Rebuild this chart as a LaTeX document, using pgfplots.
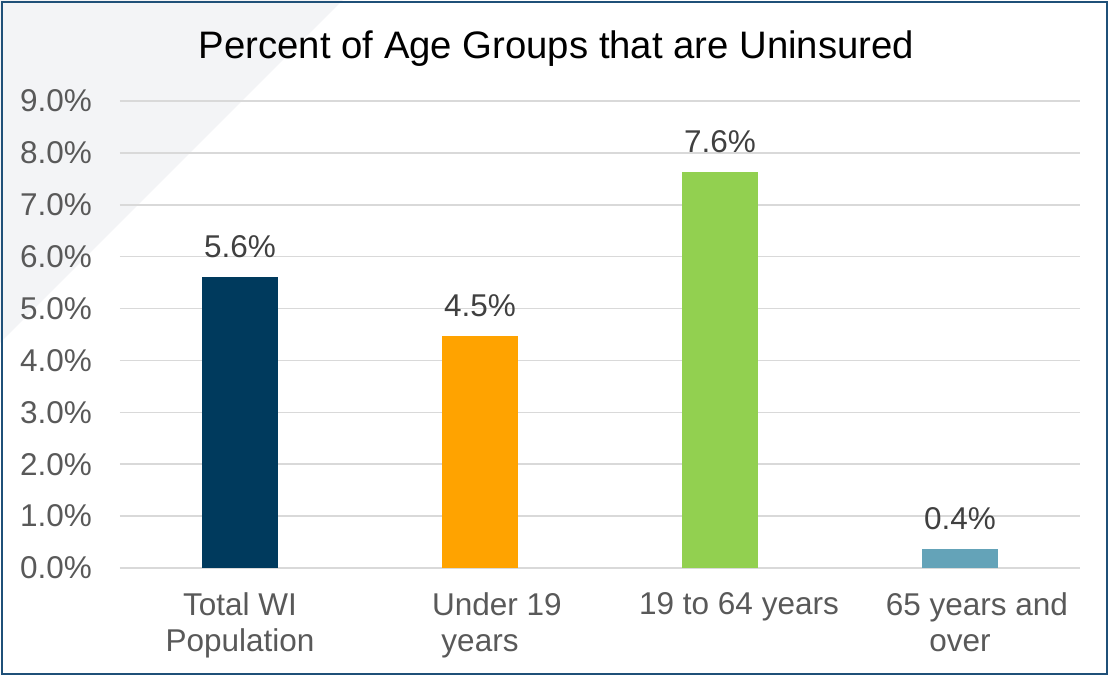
\documentclass[border=0pt]{standalone}
\usepackage{pgfplots}
\pgfplotsset{compat=1.18}
\usepackage{fontspec}
\setmainfont{Liberation Sans}
\definecolor{cnavy}{HTML}{003A5D}
\definecolor{corange}{HTML}{FFA300}
\definecolor{cgreen}{HTML}{92D050}
\definecolor{cteal}{HTML}{64A3B8}
\definecolor{cgrid}{HTML}{D9D9D9}
\definecolor{ctick}{HTML}{595959}
\definecolor{clab}{HTML}{404040}
\definecolor{cframe}{HTML}{1F5078}
\definecolor{ctri}{HTML}{F3F4F6}
\begin{document}
\begin{tikzpicture}
\useasboundingbox (0,0) rectangle (1109pt,676pt);
\fill[white] (0,0) rectangle (1109pt,676pt);
\fill[ctri] (0,676pt) -- (343pt,676pt) -- (0,333pt) -- cycle;
\begin{axis}[
  at={(120pt,108pt)}, anchor=south west,
  scale only axis, width=960pt, height=467pt,
  xmin=-0.5, xmax=3.5, ymin=0, ymax=9,
  ytick={0,1,...,9},
  xtick={0,1,2,3},
  xticklabels={{Total WI\\Population},{\hspace*{34pt}Under 19\\years},{\hspace*{38pt}19 to 64 years},{\hspace*{34pt}65 years and\\over}},
  /pgf/number format/assume math mode=true,
  yticklabel={\pgfmathprintnumber[fixed,fixed zerofill,precision=1]{\tick}\%},
  tick label style={font=\fontsize{31.5}{36.5}\selectfont, text=ctick},
  yticklabel style={inner sep=0pt, xshift=-28pt},
  xticklabel style={inner sep=0pt, align=center, anchor=north, yshift=-20pt},
  axis line style={draw=none},
  tick style={draw=none},
  ymajorgrids,
  major grid style={line width=1.6pt, draw=cgrid},
  ybar, bar width=76pt, bar shift=0pt,
  nodes near coords={\pgfmathprintnumber[fixed,fixed zerofill,precision=1]{\pgfplotspointmeta}\%},
  every node near coord/.append style={inner sep=0pt, yshift=19pt, font=\fontsize{31.5}{36}\selectfont, text=clab},
  clip=false,
]
\addplot[fill=cnavy, draw=none] coordinates {(0,5.61)};
\addplot[fill=corange, draw=none] coordinates {(1,4.47)};
\addplot[fill=cgreen, draw=none] coordinates {(2,7.63)};
\addplot[fill=cteal, draw=none] coordinates {(3,0.37)};
\end{axis}
\node[anchor=base, inner sep=0pt, font=\fontsize{38.3}{44}\selectfont] at (556.5pt,617pt) {Percent of Age Groups that are Uninsured};
\draw[cframe, line width=2.5pt] (2pt,2pt) rectangle (1107pt,674pt);
\end{tikzpicture}
\end{document}
